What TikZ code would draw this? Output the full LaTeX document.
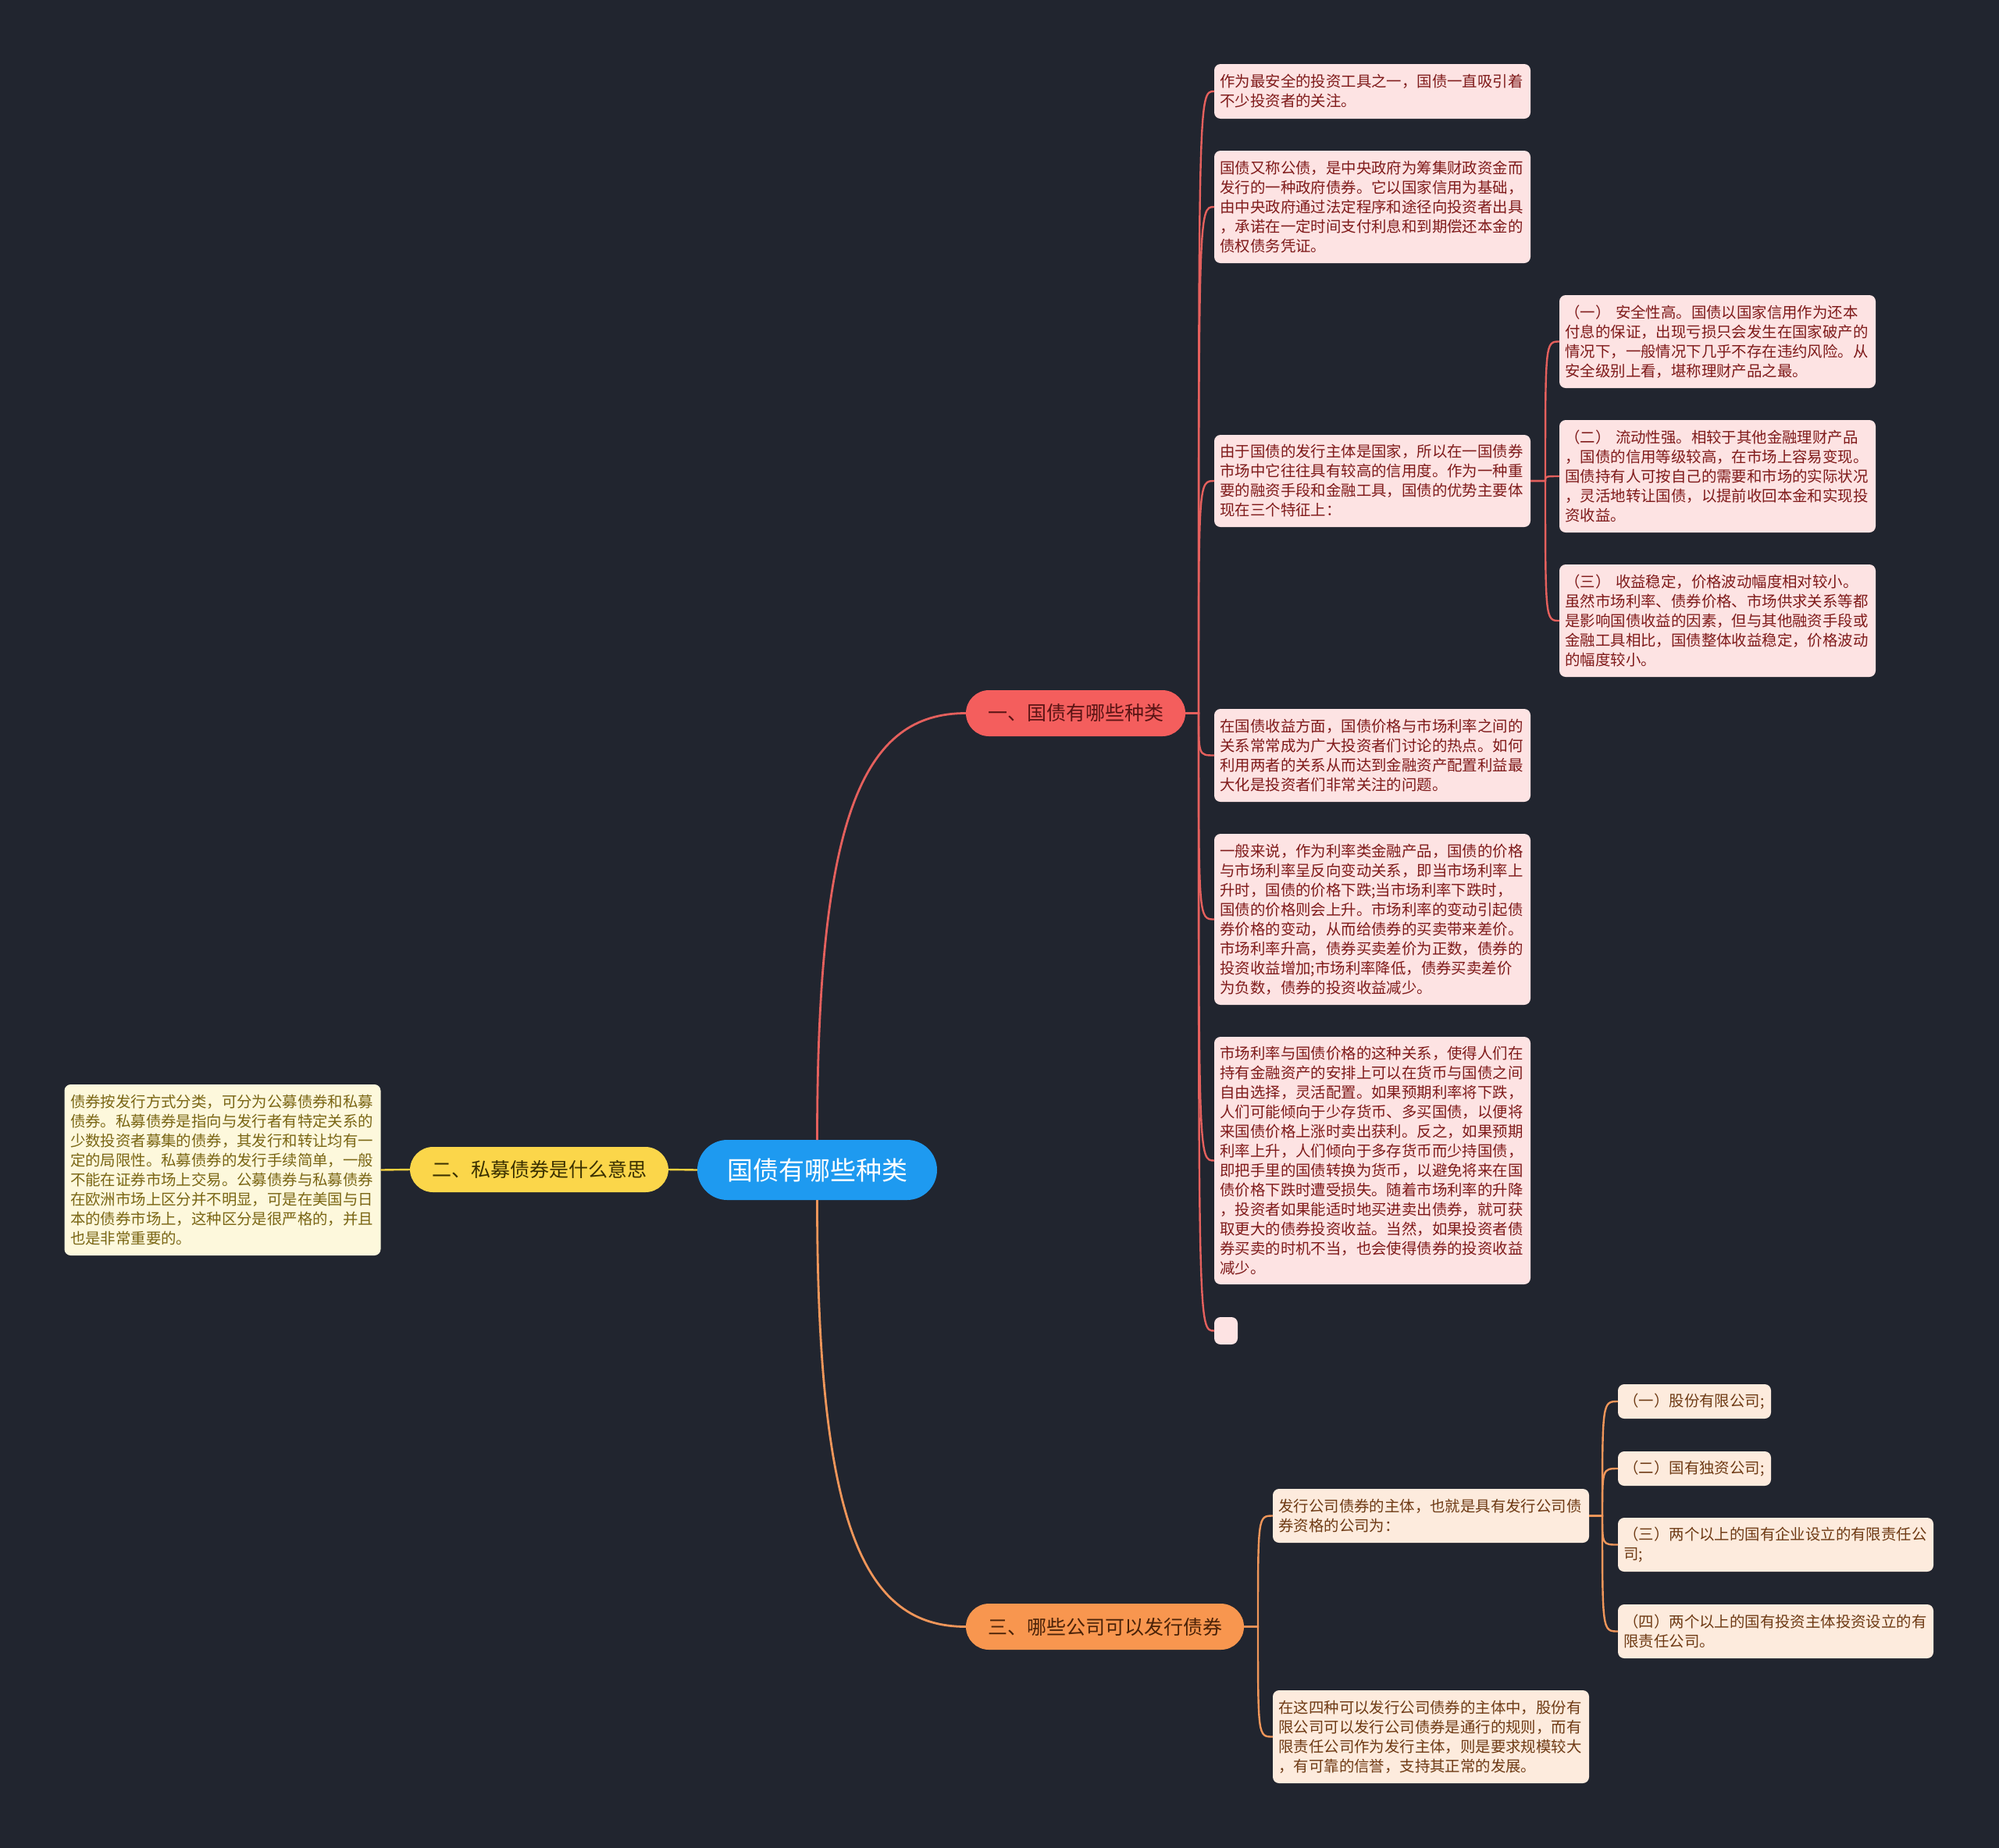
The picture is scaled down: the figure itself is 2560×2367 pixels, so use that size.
\documentclass[tikz,border=0pt]{standalone}
\usepackage{fontspec}
\setmainfont{Noto Sans CJK SC}
\definecolor{bgc}{HTML}{21252F}
\definecolor{rootc}{HTML}{1E9AF0}
\definecolor{redc}{HTML}{F45E5D}
\definecolor{redtxt}{HTML}{5A1414}
\definecolor{yelc}{HTML}{FBD64A}
\definecolor{yeltxt}{HTML}{3A3000}
\definecolor{orac}{HTML}{F8964F}
\definecolor{oratxt}{HTML}{4A2208}
\definecolor{redln}{HTML}{E5605D}
\definecolor{yelln}{HTML}{F5D03F}
\definecolor{oraln}{HTML}{F0965A}
\definecolor{pinkbg}{HTML}{FDE3E3}
\definecolor{pinktxt}{HTML}{7F1A1A}
\definecolor{creambg}{HTML}{FDF8DC}
\definecolor{creamtxt}{HTML}{7A6614}
\definecolor{peachbg}{HTML}{FDEBDD}
\definecolor{peachtxt}{HTML}{6E3A14}

\begin{document}
\begin{tikzpicture}[
    x=0.5pt, y=-0.5pt,
    every node/.style={inner sep=0pt, outer sep=0pt},
    root/.style={fill=rootc, text=white, rounded corners=19.25pt, minimum width=153.5pt, minimum height=38.5pt, font=\fontsize{16.5}{18}\selectfont},
    pill/.style={rounded corners=14.75pt, minimum height=29.5pt, font=\fontsize{12.5}{14}\selectfont},
    leaf/.style={rounded corners=4pt, text width=195pt, align=left, inner xsep=3.75pt, font=\fontsize{9.7}{12.5}\selectfont},
    redleaf/.style={leaf, fill=pinkbg, text=pinktxt},
    yelleaf/.style={leaf, fill=creambg, text=creamtxt},
    oraleaf/.style={leaf, fill=peachbg, text=peachtxt},
    redlink/.style={draw=redln, line width=1.2pt},
    yellink/.style={draw=yelln, line width=1.2pt},
    oralink/.style={draw=oraln, line width=1.2pt}
]
    \fill[bgc] (0,0) rectangle (2560,2367);
    \useasboundingbox (0,0) rectangle (2560,2367);

    \node[root] (root) at (1046.5,1498.5) {国债有哪些种类};
    \node[pill, fill=redc, text=redtxt, minimum width=140.5pt] (b1) at (1377.5,913.5) {一、国债有哪些种类};
    \node[pill, fill=yelc, text=yeltxt, minimum width=165.5pt, minimum height=29pt] (b2) at (690.5,1498) {二、私募债券是什么意思};
    \node[pill, fill=orac, text=oratxt, minimum width=178pt] (b3) at (1415,2083.5) {三、哪些公司可以发行债券};

    \node[redleaf, minimum height=35pt] (a1) at (1757.5,117) {作为最安全的投资工具之一，国债一直吸引着\\不少投资者的关注。};
    \node[redleaf, minimum height=72pt] (a2) at (1757.5,265) {国债又称公债，是中央政府为筹集财政资金而\\发行的一种政府债券。它以国家信用为基础，\\由中央政府通过法定程序和途径向投资者出具\\，承诺在一定时间支付利息和到期偿还本金的\\债权债务凭证。};
    \node[redleaf, minimum height=59pt] (a3) at (1757.5,616) {由于国债的发行主体是国家，所以在一国债券\\市场中它往往具有较高的信用度。作为一种重\\要的融资手段和金融工具，国债的优势主要体\\现在三个特征上：};
    \node[redleaf, minimum height=59.5pt] (a4) at (1757.5,967.5) {在国债收益方面，国债价格与市场利率之间的\\关系常常成为广大投资者们讨论的热点。如何\\利用两者的关系从而达到金融资产配置利益最\\大化是投资者们非常关注的问题。};
    \node[redleaf, minimum height=109.5pt] (a5) at (1757.5,1177.5) {一般来说，作为利率类金融产品，国债的价格\\与市场利率呈反向变动关系，即当市场利率上\\升时，国债的价格下跌;当市场利率下跌时，\\国债的价格则会上升。市场利率的变动引起债\\券价格的变动，从而给债券的买卖带来差价。\\市场利率升高，债券买卖差价为正数，债券的\\投资收益增加;市场利率降低，债券买卖差价\\为负数，债券的投资收益减少。};
    \node[redleaf, minimum height=158.5pt] (a6) at (1757.5,1486.5) {市场利率与国债价格的这种关系，使得人们在\\持有金融资产的安排上可以在货币与国债之间\\自由选择，灵活配置。如果预期利率将下跌，\\人们可能倾向于少存货币、多买国债，以便将\\来国债价格上涨时卖出获利。反之，如果预期\\利率上升，人们倾向于多存货币而少持国债，\\即把手里的国债转换为货币，以避免将来在国\\债价格下跌时遭受损失。随着市场利率的升降\\，投资者如果能适时地买进卖出债券，就可获\\取更大的债券投资收益。当然，如果投资者债\\券买卖的时机不当，也会使得债券的投资收益\\减少。};
    \node[fill=pinkbg, rounded corners=4pt, minimum width=15pt, minimum height=17.5pt] (a7) at (1570,1704.5) {};

    \node[redleaf, minimum height=59.5pt] (c1) at (2199.5,437.5) {（一） 安全性高。国债以国家信用作为还本\\付息的保证，出现亏损只会发生在国家破产的\\情况下，一般情况下几乎不存在违约风险。从\\安全级别上看，堪称理财产品之最。};
    \node[redleaf, minimum height=72pt] (c2) at (2199.5,610) {（二） 流动性强。相较于其他金融理财产品\\，国债的信用等级较高，在市场上容易变现。\\国债持有人可按自己的需要和市场的实际状况\\，灵活地转让国债，以提前收回本金和实现投\\资收益。};
    \node[redleaf, minimum height=72pt] (c3) at (2199.5,795) {（三） 收益稳定，价格波动幅度相对较小。\\虽然市场利率、债券价格、市场供求关系等都\\是影响国债收益的因素，但与其他融资手段或\\金融工具相比，国债整体收益稳定，价格波动\\的幅度较小。};

    \node[yelleaf, minimum height=109.5pt] (y1) at (285,1498.5) {债券按发行方式分类，可分为公募债券和私募\\债券。私募债券是指向与发行者有特定关系的\\少数投资者募集的债券，其发行和转让均有一\\定的局限性。私募债券的发行手续简单，一般\\不能在证券市场上交易。公募债券与私募债券\\在欧洲市场上区分并不明显，可是在美国与日\\本的债券市场上，这种区分是很严格的，并且\\也是非常重要的。};

    \node[oraleaf, minimum height=34.5pt] (h) at (1832.5,1941.5) {发行公司债券的主体，也就是具有发行公司债\\券资格的公司为：};
    \node[oraleaf, minimum height=59.5pt] (i) at (1832.5,2224.5) {在这四种可以发行公司债券的主体中，股份有\\限公司可以发行公司债券是通行的规则，而有\\限责任公司作为发行主体，则是要求规模较大\\，有可靠的信誉，支持其正常的发展。};
    \node[oraleaf, text width=90.5pt, minimum height=22pt] (h1) at (2170,1795) {（一）股份有限公司;};
    \node[oraleaf, text width=90.5pt, minimum height=22pt] (h2) at (2170,1881) {（二）国有独资公司;};
    \node[oraleaf, text width=194.5pt, minimum height=34.5pt] (h3) at (2274,1978.5) {（三）两个以上的国有企业设立的有限责任公\\司;};
    \node[oraleaf, text width=194.5pt, minimum height=34.5pt] (h4) at (2274,2089.5) {（四）两个以上的国有投资主体投资设立的有\\限责任公司。};

    \draw[redlink, line width=1.4pt] (root.north) .. controls +(0,-420) and +(-130,0) .. (b1.west);
    \draw[oralink, line width=1.4pt] (root.south) .. controls +(0,420) and +(-130,0) .. (b3.west);
    \draw[yellink] (root.west) -- (b2.east);
    \draw[yellink] (b2.west) -- (y1.east);

    \foreach \n in {a1,a2,a3,a4,a5,a6,a7}
        \draw[redlink] (b1.east) -- ++(17,0) coordinate (j) .. controls (j |- \n.west) .. (\n.west);
    \foreach \n in {c1,c2,c3}
        \draw[redlink] (a3.east) -- ++(19,0) coordinate (j) .. controls (j |- \n.west) .. (\n.west);
    \foreach \n in {h,i}
        \draw[oralink] (b3.east) -- ++(18,0) coordinate (j) .. controls (j |- \n.west) .. (\n.west);
    \foreach \n in {h1,h2,h3,h4}
        \draw[oralink] (h.east) -- ++(17,0) coordinate (j) .. controls (j |- \n.west) .. (\n.west);
\end{tikzpicture}
\end{document}
